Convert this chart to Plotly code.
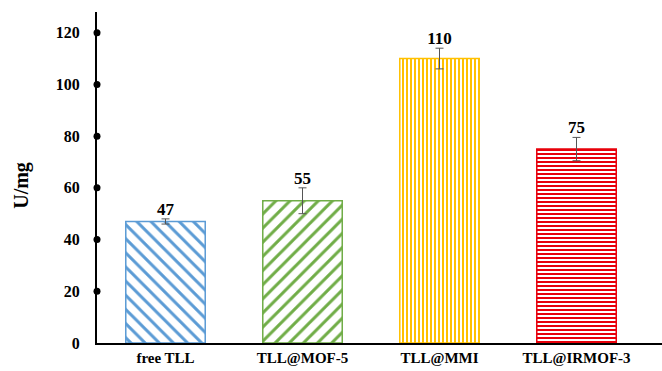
import plotly.graph_objects as go

# Enzyme activity of free and immobilized TLL
categories = ["free TLL", "TLL@MOF-5", "TLL@MMI", "TLL@IRMOF-3"]
activity = [47, 55, 110, 75]
errors = [1, 5, 4, 4.5]
y_ticks = [20, 40, 60, 80, 100, 120]

colors = ["#5b9bd5", "#70ad47", "#ffc000", "#e8000b"]
shapes = ["\\", "/", "|", "-"]
sizes = [10, 10, 4, 4]
solidities = [0.3, 0.3, 0.5, 0.5]

xpos = list(range(len(categories)))
serif = "Liberation Serif"

fig = go.Figure()

fig.add_trace(go.Bar(
    x=xpos,
    y=activity,
    width=0.58,
    marker=dict(
        color="white",
        line=dict(color=colors, width=1.5),
        pattern=dict(shape=shapes, fgcolor=colors, bgcolor="white",
                     size=sizes, solidity=solidities, fillmode="replace"),
    ),
    error_y=dict(type="data", array=errors, visible=True,
                 color="#555555", thickness=1, width=4),
    showlegend=False,
))

# value labels above the error bars
fig.add_trace(go.Scatter(
    x=xpos,
    y=[v + e for v, e in zip(activity, errors)],
    mode="text",
    text=[str(v) for v in activity],
    textposition="top center",
    textfont=dict(family=serif, size=17, color="black", weight="bold"),
    showlegend=False,
    cliponaxis=False,
))

# round markers along the value axis
fig.add_trace(go.Scatter(
    x=[-0.5] * len(y_ticks),
    y=y_ticks,
    mode="markers",
    marker=dict(color="black", size=7),
    showlegend=False,
    cliponaxis=False,
))

fig.update_layout(
    width=662,
    height=371,
    margin=dict(l=97, r=0, t=12, b=28),
    plot_bgcolor="white",
    paper_bgcolor="white",
    font=dict(family=serif, color="black"),
    xaxis=dict(
        range=[-0.5, 3.624],
        tickvals=xpos,
        ticktext=categories,
        tickfont=dict(family=serif, size=15, weight="bold"),
        showline=True,
        linecolor="black",
        linewidth=2,
        showgrid=False,
        zeroline=False,
        ticks="",
    ),
    yaxis=dict(
        range=[0, 128],
        tickvals=[0] + y_ticks,
        tickfont=dict(family=serif, size=16, weight="bold"),
        showline=True,
        linecolor="black",
        linewidth=2,
        showgrid=False,
        zeroline=False,
        ticks="",
        ticklabelstandoff=12,
    ),
    annotations=[dict(
        text="U/mg",
        xref="paper", yref="paper",
        x=-0.1327, y=0.475,
        xanchor="center", yanchor="middle",
        textangle=-90,
        showarrow=False,
        font=dict(family=serif, size=20, weight="bold"),
    )],
)

fig.write_html("out.html")
